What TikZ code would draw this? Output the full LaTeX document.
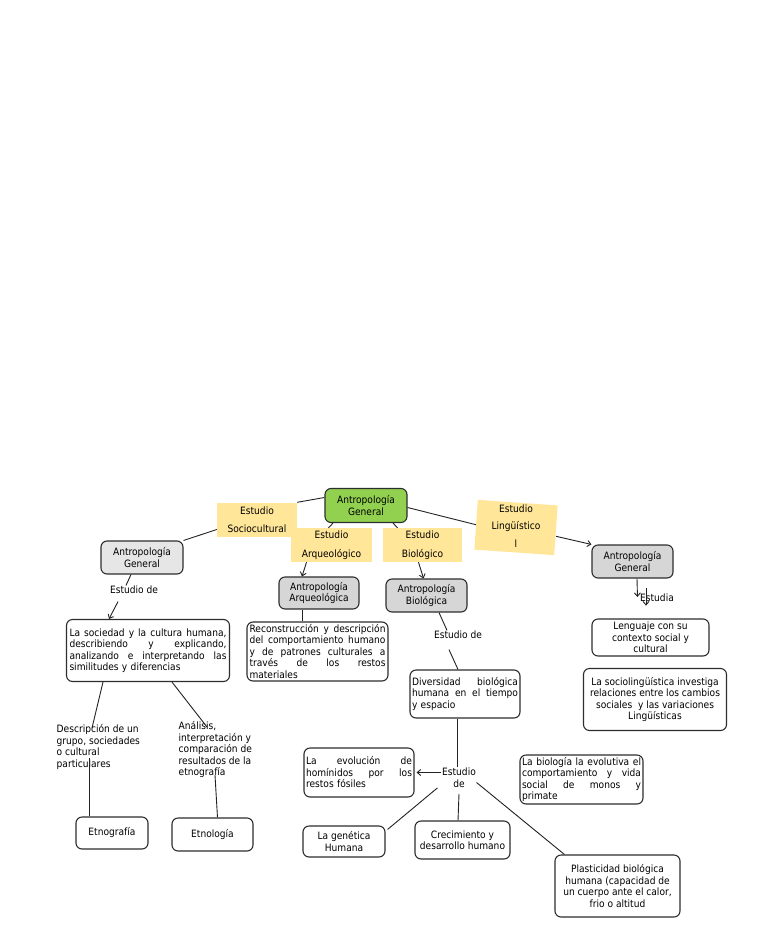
\documentclass[tikz,border=0pt]{standalone}
\usepackage{fontspec}
\setmainfont{DejaVu Sans}[FakeStretch=0.9]
\usetikzlibrary{arrows.meta}
\definecolor{greenc}{HTML}{92D050}
\definecolor{yelc}{HTML}{FFE699}
\definecolor{grayl}{HTML}{E6E6E6}
\definecolor{grayd}{HTML}{D6D6D6}
\definecolor{bordc}{HTML}{2E2E2E}
\definecolor{linec}{HTML}{222222}
\newcommand\jl[1]{\leavevmode\hbox to \hsize{\spaceskip=0.3em plus 1fil\relax #1}}
\begin{document}
\begin{tikzpicture}[x=1pt,y=-1pt,
  font=\fontsize{10.1}{11.5}\selectfont,
  box/.style={draw=bordc, line width=1.1pt, rounded corners=6pt, fill=white, align=center, inner sep=1pt},
  jbox/.style={box, align=left, inner xsep=2pt, inner ysep=0pt},
  gbox/.style={box, fill=grayd},
  lbl/.style={fill=yelc, align=center, inner sep=0pt},
  plain/.style={inner sep=0.5pt, align=center},
  conn/.style={draw=linec, line width=0.9pt},
  arr/.style={conn, -{Straight Barb[length=3.5pt,width=6pt]}}
]
\fill[white] (0,0) rectangle (768,932);
\useasboundingbox (0,0) rectangle (768,932);

% top level
\node[box, fill=greenc, minimum width=82pt, minimum height=34pt] (green) at (366,505.5) {Antropología\\General};
\node[lbl, minimum width=80pt, minimum height=34pt] (soc) at (257,519.5) {Estudio\\[6.5pt]Sociocultural};
\node[lbl, minimum width=81pt, minimum height=34pt] (arq) at (331.5,545) {Estudio\\[7pt]Arqueológico};
\node[lbl, minimum width=79pt, minimum height=34pt] (bio) at (422.5,545) {Estudio\\[7pt]Biológico};
\node[lbl, minimum width=80pt, minimum height=42pt, rotate=-4] (ling) at (516,527.5) {\rotatebox{4}{\begin{tabular}{@{}c@{}}Estudio\\[6pt]Lingüístico\\[6pt]l\end{tabular}}};

% second level
\node[box, fill=grayl, minimum width=82pt, minimum height=33pt] (gl) at (142,557.5) {Antropología\\General};
\node[gbox, minimum width=80pt, minimum height=32pt] (ga) at (319,593) {Antropología\\Arqueológica};
\node[gbox, minimum width=81pt, minimum height=33pt] (gb) at (426.5,595.5) {Antropología\\Biológica};
\node[gbox, minimum width=81pt, minimum height=33pt] (gr) at (632.5,561.5) {Antropología\\General};

% left branch
\node[plain] (e1) at (134,590) {Estudio de};
\node[jbox, text width=157pt, minimum height=62pt, inner xsep=3pt] (A) at (148,650.5) {\jl{La sociedad y la cultura humana,}\\\jl{describiendo y explicando,}\\\jl{analizando e interpretando las}\\similitudes y diferencias};
\node[plain, anchor=north west, align=left] (descr) at (56,724) {Descripción de un\\grupo, sociedades\\o cultural\\particulares};
\node[plain, anchor=north west, align=left] (anal) at (178,721) {Análisis,\\interpretación y\\comparación de\\resultados de la\\etnografía};
\node[box, minimum width=72pt, minimum height=32pt] (etg) at (112,833) {Etnografía};
\node[box, minimum width=81pt, minimum height=33pt] (etl) at (212.5,834.5) {Etnología};

% arqueologica branch
\node[jbox, text width=136pt, minimum height=59pt, inner xsep=2.5pt] (recon) at (317.5,651.5) {\jl{Reconstrucción y descripción}\\\jl{del comportamiento humano}\\\jl{y de patrones culturales a}\\\jl{través de los restos}\\materiales};

% biologica branch
\node[plain] (e2) at (458,635) {Estudio de};
\node[jbox, text width=106pt, minimum height=48pt] (div) at (465,694) {\jl{Diversidad biológica}\\\jl{humana en el tiempo}\\y espacio};
\node[plain] (e3) at (459,777.5) {Estudio\\de};
\node[jbox, text width=106pt, minimum height=49pt] (evol) at (359,772.5) {\jl{La evolución de}\\\jl{homínidos por los}\\restos fósiles};
\node[box, minimum width=82pt, minimum height=31pt] (gen) at (344,841.5) {La genética\\Humana};
\node[box, minimum width=95pt, minimum height=38pt] (crec) at (462.5,840) {Crecimiento y\\desarrollo humano};
\node[jbox, text width=119pt, minimum height=49pt] (biol) at (581.5,779.5) {\jl{La biología la evolutiva el}\\\jl{comportamiento y vida}\\\jl{social de monos y}\\primate};
\node[box, minimum width=125pt, minimum height=62pt] (plast) at (617.5,886) {Plasticidad biológica\\humana (capacidad de\\un cuerpo ante el calor,\\frio o altitud};

% linguistic branch
\node[plain] (estudia) at (657,598) {Estudia};
\node[box, minimum width=117pt, minimum height=37pt] (leng) at (650.5,637.5) {Lenguaje con su\\contexto social y\\cultural};
\node[box, minimum width=143pt, minimum height=62pt] (socl) at (655,699.5) {La sociolingüística investiga\\relaciones entre los cambios\\sociales\ \ y las variaciones\\Lingüísticas};

% connectors top
\draw[conn] ([yshift=8pt]green.west) -- (soc.north east);
\draw[conn] ([yshift=-10pt]soc.west) -- (gl.north east);
\draw[conn] ([xshift=-33pt]green.south) -- ([xshift=-3pt]arq.north);
\draw[arr] ([xshift=-25pt]arq.south) -- ([xshift=-17pt]ga.north);
\draw[conn] ([xshift=27pt]green.south) -- ([xshift=-25pt]bio.north);
\draw[arr] ([xshift=-4pt]bio.south) -- ([xshift=-3pt]gb.north);
\draw[conn] ([yshift=-2pt]green.east) -- (ling.west);
\draw[arr] ([yshift=-6pt]ling.east) -- (gr.north west);

% left branch connectors
\draw[conn] ([xshift=-11pt]gl.south) -- ([xshift=-8pt]e1.north);
\draw[arr] ([xshift=-16pt,yshift=-7pt]e1.south) -- ([xshift=-39pt]A.north);
\draw[conn] ([xshift=-45pt]A.south) -- ([xshift=36pt,yshift=-4pt]descr.north west);
\draw[conn] ([xshift=33pt,yshift=-34pt]descr.north west) -- ([xshift=-23pt]etg.north);
\draw[conn] ([xshift=24pt]A.south) -- ([xshift=29pt,yshift=-6pt]anal.north west);
\draw[conn] ([xshift=37pt,yshift=-54pt]anal.north west) -- ([xshift=5pt]etl.north);

% arqueologica
\draw[conn] ([xshift=-17pt]ga.south) -- ([xshift=-15.5pt]recon.north);

% biologica
\draw[conn] ([xshift=12.5pt]gb.south) -- ([xshift=-11pt]e2.north);
\draw[conn] ([xshift=-9pt,yshift=-10pt]e2.south) -- ([xshift=-7pt]div.north);
\draw[conn] ([xshift=-8pt]div.south) -- ([xshift=-2pt]e3.north);
\draw[arr] ([yshift=5pt]e3.west) -- ([xshift=2pt]evol.east);
\draw[conn] ([xshift=-4pt]e3.south west) -- ([xshift=2pt,yshift=-4pt]gen.north east);
\draw[conn] ([yshift=-6pt]e3.south) -- ([xshift=-4.5pt]crec.north);
\draw[conn] ([yshift=-5pt]e3.east) -- ([xshift=10pt]plast.north west);

% linguistic
\draw[arr] ([xshift=4.5pt]gr.south) -- ([xshift=-2pt,yshift=1pt]estudia.west);
\draw[arr] ([xshift=-11pt,yshift=5pt]estudia.north) -- ([xshift=-11pt,yshift=-3pt]estudia.south);
\end{tikzpicture}
\end{document}
